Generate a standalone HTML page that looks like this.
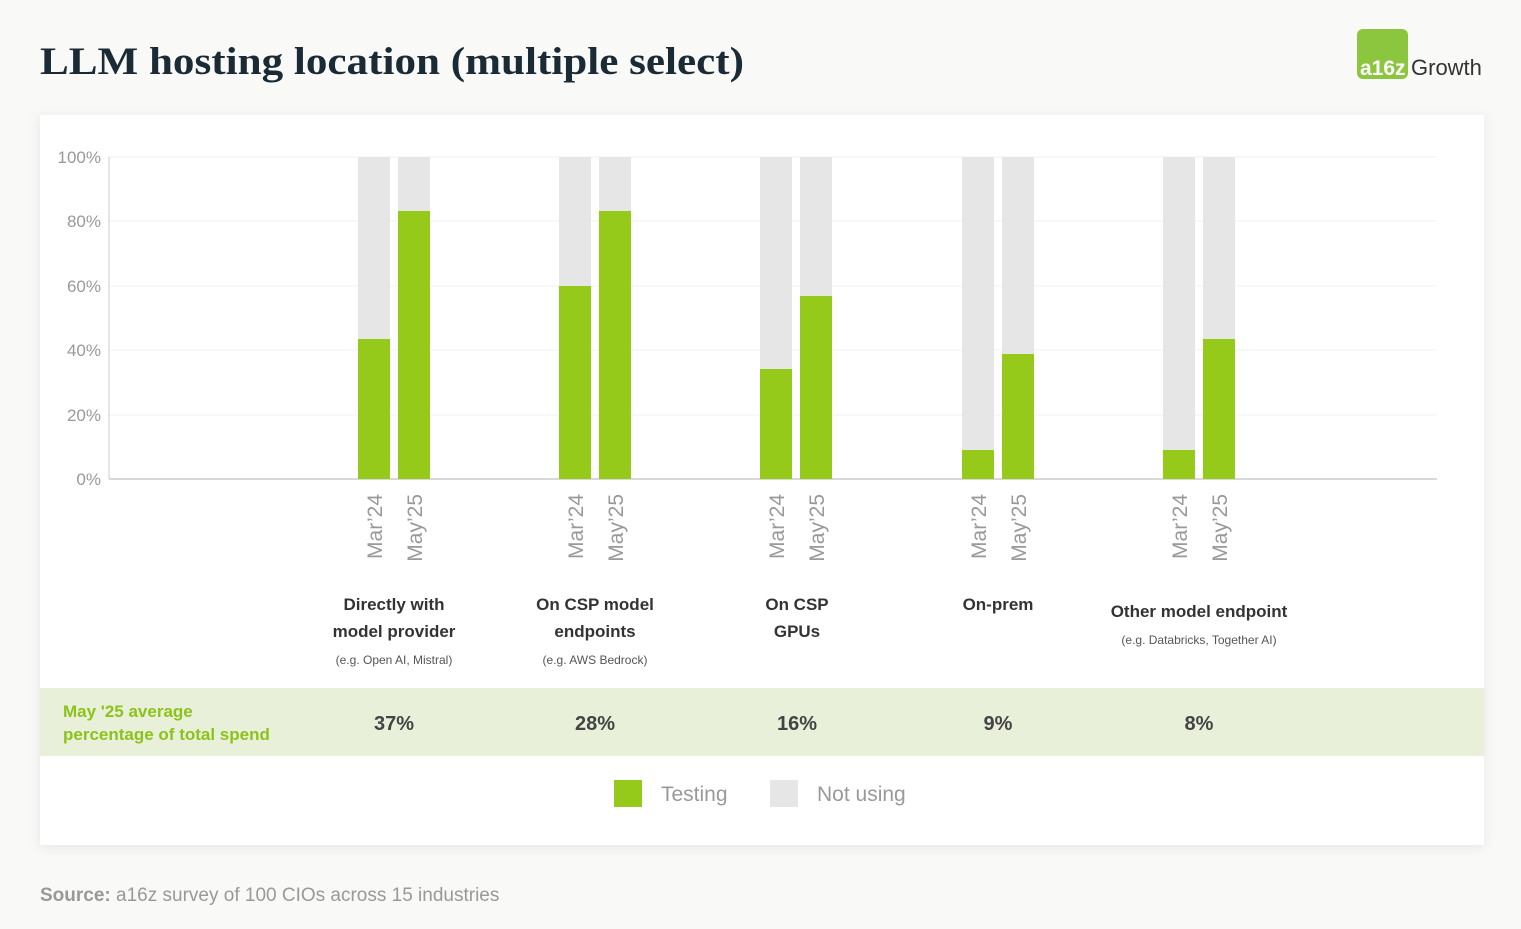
<!DOCTYPE html>
<html><head><meta charset="utf-8"><style>
body{margin:0;width:1521px;height:924px;background:#f9f9f8;overflow:hidden;font-family:"Liberation Sans",sans-serif}
</style></head><body>
<svg width="1521" height="924" xmlns="http://www.w3.org/2000/svg" font-family="Liberation Sans, sans-serif">
<text x="40" y="74" font-family="Liberation Serif, serif" font-weight="bold" font-size="39" fill="#1b2b36" textLength="704" lengthAdjust="spacingAndGlyphs">LLM hosting location (multiple select)</text>
<rect x="1357" y="29" width="51" height="50" rx="6" fill="#8cc63f"/>
<text x="1360" y="75" font-size="21" font-weight="bold" fill="#fff">a16z</text>
<text x="1411" y="75" font-size="22" fill="#333">Growth</text>
<rect x="40" y="115" width="1444" height="730" fill="#fff" style="filter:drop-shadow(0 2px 6px rgba(0,0,0,0.08))"/>
<g stroke="#f0f0f0" stroke-width="1">
<line x1="109" y1="157" x2="1437" y2="157"/><line x1="109" y1="221" x2="1437" y2="221"/>
<line x1="109" y1="286" x2="1437" y2="286"/><line x1="109" y1="350" x2="1437" y2="350"/>
<line x1="109" y1="415" x2="1437" y2="415"/></g>
<line x1="109" y1="157" x2="109" y2="479" stroke="#ccc"/>
<line x1="109" y1="479" x2="1437" y2="479" stroke="#ccc" stroke-width="1.5"/>
<g font-size="17" fill="#999" text-anchor="end">
<text x="101" y="163">100%</text><text x="101" y="227">80%</text><text x="101" y="292">60%</text>
<text x="101" y="356">40%</text><text x="101" y="421">20%</text><text x="101" y="485">0%</text></g>
<g fill="#e6e6e6">
<rect x="358" y="157" width="32" height="322"/><rect x="398" y="157" width="32" height="322"/>
<rect x="559" y="157" width="32" height="322"/><rect x="599" y="157" width="32" height="322"/>
<rect x="760" y="157" width="32" height="322"/><rect x="800" y="157" width="32" height="322"/>
<rect x="962" y="157" width="32" height="322"/><rect x="1002" y="157" width="32" height="322"/>
<rect x="1163" y="157" width="32" height="322"/><rect x="1203" y="157" width="32" height="322"/></g>
<g fill="#95c91a">
<rect x="358" y="339" width="32" height="140"/><rect x="398" y="211" width="32" height="268"/>
<rect x="559" y="286" width="32" height="193"/><rect x="599" y="211" width="32" height="268"/>
<rect x="760" y="369" width="32" height="110"/><rect x="800" y="296" width="32" height="183"/>
<rect x="962" y="450" width="32" height="29"/><rect x="1002" y="354" width="32" height="125"/>
<rect x="1163" y="450" width="32" height="29"/><rect x="1203" y="339" width="32" height="140"/></g>
<g font-size="21" fill="#999" text-anchor="end">
<text transform="translate(382,494) rotate(-90)">Mar’24</text><text transform="translate(422,494) rotate(-90)">May’25</text>
<text transform="translate(583,494) rotate(-90)">Mar’24</text><text transform="translate(623,494) rotate(-90)">May’25</text>
<text transform="translate(784,494) rotate(-90)">Mar’24</text><text transform="translate(824,494) rotate(-90)">May’25</text>
<text transform="translate(986,494) rotate(-90)">Mar’24</text><text transform="translate(1026,494) rotate(-90)">May’25</text>
<text transform="translate(1187,494) rotate(-90)">Mar’24</text><text transform="translate(1227,494) rotate(-90)">May’25</text></g>
<g font-size="17" font-weight="bold" fill="#333" text-anchor="middle">
<text x="394" y="610">Directly with</text><text x="394" y="637">model provider</text>
<text x="595" y="610">On CSP model</text><text x="595" y="637">endpoints</text>
<text x="797" y="610">On CSP</text><text x="797" y="637">GPUs</text>
<text x="998" y="610">On-prem</text>
<text x="1199" y="617">Other model endpoint</text></g>
<g font-size="12" fill="#555" text-anchor="middle">
<text x="394" y="664">(e.g. Open AI, Mistral)</text><text x="595" y="664">(e.g. AWS Bedrock)</text>
<text x="1199" y="644">(e.g. Databricks, Together AI)</text></g>
<rect x="40" y="688" width="1444" height="68" fill="#e9f0d9"/>
<g font-size="17" font-weight="bold" fill="#8cc31a"><text x="63" y="717">May '25 average</text><text x="63" y="740">percentage of total spend</text></g>
<g font-size="20" font-weight="bold" fill="#444" text-anchor="middle">
<text x="394" y="730">37%</text><text x="595" y="730">28%</text><text x="797" y="730">16%</text><text x="998" y="730">9%</text><text x="1199" y="730">8%</text></g>
<rect x="614" y="780" width="28" height="27" fill="#95c91a"/>
<text x="661" y="801" font-size="21" fill="#999">Testing</text>
<rect x="770" y="780" width="28" height="27" fill="#e6e6e6"/>
<text x="817" y="801" font-size="21" fill="#999">Not using</text>
<text x="40" y="901" font-size="19" fill="#999"><tspan font-weight="bold">Source:</tspan> a16z survey of 100 CIOs across 15 industries</text>
</svg>
</body></html>
